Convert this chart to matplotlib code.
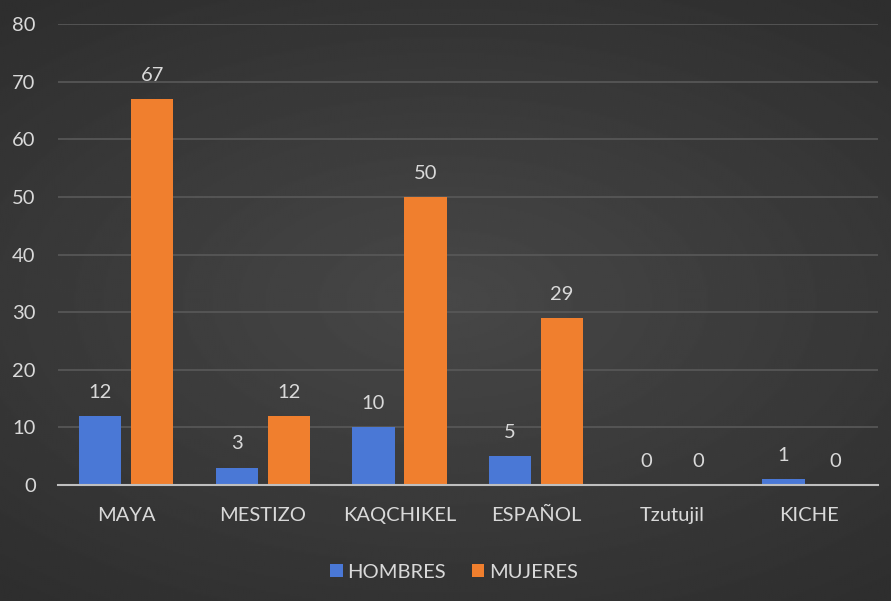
import matplotlib.pyplot as plt
import numpy as np

# Datos del gráfico
categorias = ["MAYA", "MESTIZO", "KAQCHIKEL", "ESPAÑOL", "Tzutujil", "KICHE"]
hombres = [12, 3, 10, 5, 0, 1]
mujeres = [67, 12, 50, 29, 0, 0]
yticks = [0, 10, 20, 30, 40, 50, 60, 70, 80]

plt.rcParams['font.family'] = ['Lato', 'DejaVu Sans']
texto = '#d9d9d9'
fs = 14.5

fig = plt.figure(figsize=(8.91, 6.01), dpi=100)

# Fondo con degradado oscuro
bg = fig.add_axes([0, 0, 1, 1], zorder=-10)
yy, xx = np.mgrid[-1:1:300j, -1:1:450j]
r = np.sqrt((xx * 0.9) ** 2 + (yy * 1.1) ** 2)
bg.imshow(0.28 - 0.10 * np.clip(r, 0, 1.4) / 1.4, cmap='gray', vmin=0, vmax=1,
          aspect='auto', extent=[0, 1, 0, 1])
bg.axis('off')

ax = fig.add_axes([0.065, 0.193, 0.92, 0.767])
ax.patch.set_alpha(0)

x = np.arange(len(categorias))
ancho = 0.31
sep = 0.035
b1 = ax.bar(x - ancho / 2 - sep, hombres, ancho, color='#4a78d6', label='HOMBRES', zorder=3)
b2 = ax.bar(x + ancho / 2 + sep, mujeres, ancho, color='#f07f2e', label='MUJERES', zorder=3)

for barras in (b1, b2):
    for b in barras:
        h = b.get_height()
        ax.annotate(f"{h:g}", (b.get_x() + b.get_width() / 2, h),
                    xytext=(0, 11), textcoords='offset points',
                    ha='center', va='bottom', color=texto, fontsize=fs)

ax.set_xlim(-0.5, len(categorias) - 0.5)
ax.set_ylim(0, 80)
ax.set_yticks(yticks)
ax.set_xticks(x)
ax.set_xticklabels(categorias)
ax.tick_params(axis='both', length=0, colors=texto, labelsize=fs)
ax.tick_params(axis='y', pad=16)
ax.tick_params(axis='x', pad=16)
ax.yaxis.grid(True, color='#595959', linewidth=1.2, zorder=0)
for s in ['top', 'right', 'left']:
    ax.spines[s].set_visible(False)
ax.spines['bottom'].set_color('#bfbfbf')
ax.spines['bottom'].set_linewidth(1.5)
ax.spines['bottom'].set_zorder(4)

leg = fig.legend(handles=[b1, b2], loc='center', bbox_to_anchor=(0.51, 0.048),
                 ncol=2, frameon=False, fontsize=fs, handlelength=0.6,
                 handleheight=0.6, handletextpad=0.25, columnspacing=1.3)
for t in leg.get_texts():
    t.set_color(texto)

fig.savefig('out.png', dpi=100)
